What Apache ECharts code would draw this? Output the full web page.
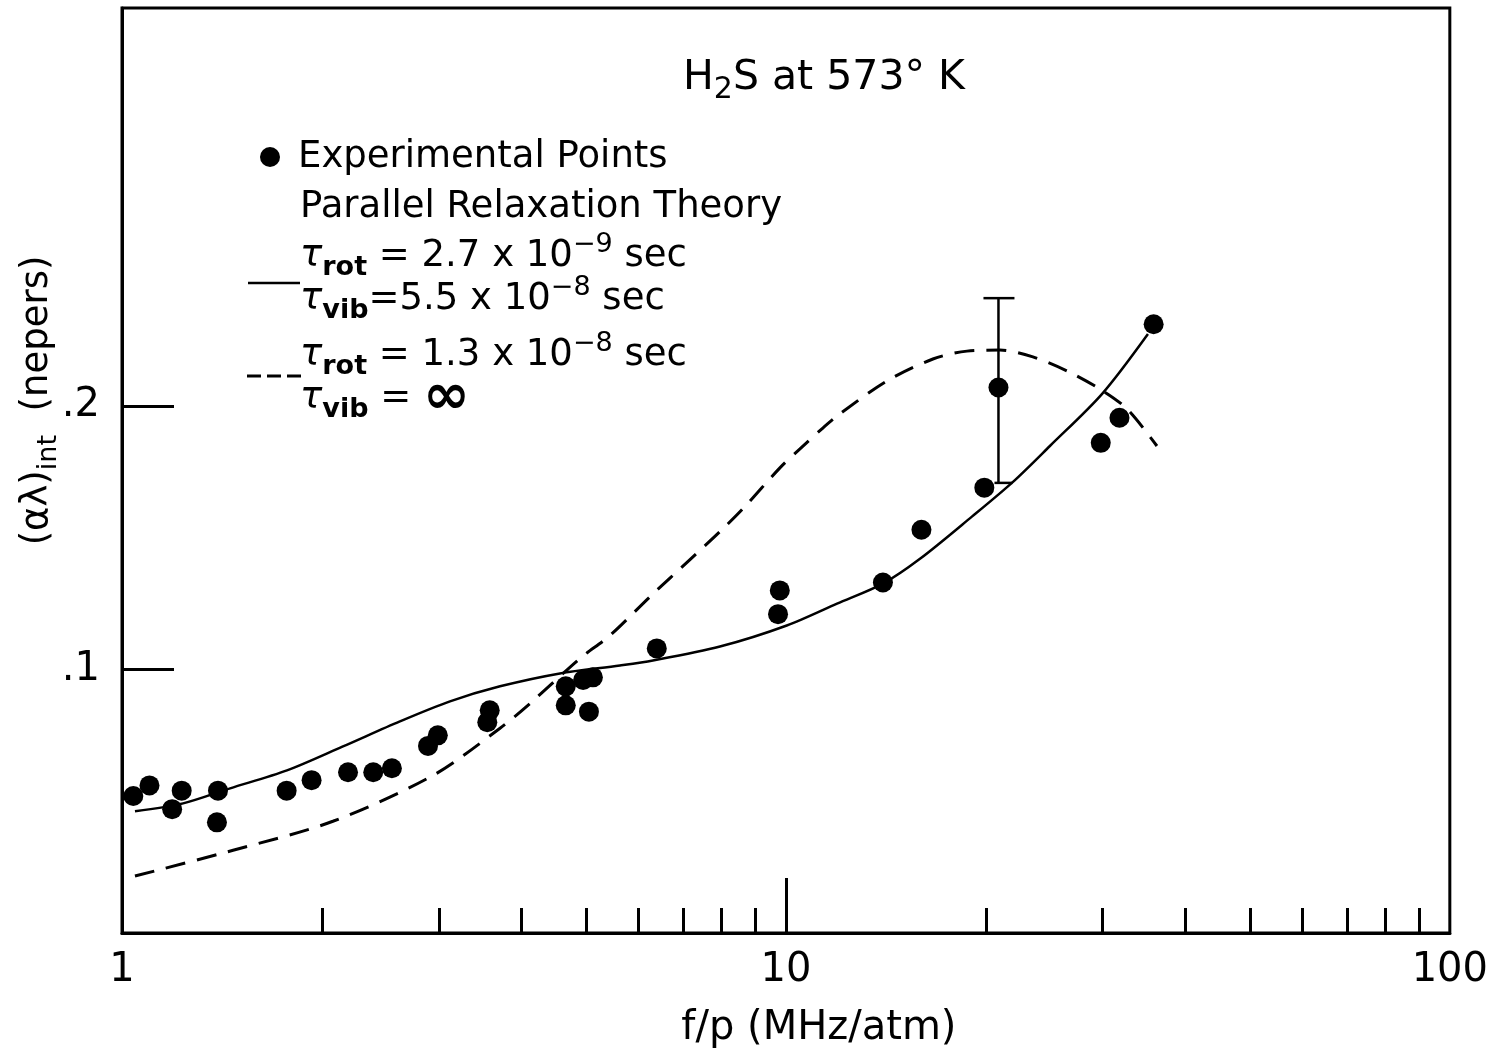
<!DOCTYPE html>
<html>
<head>
<meta charset="utf-8">
<script src="https://cdn.jsdelivr.net/npm/echarts@6/dist/echarts.min.js"></script>
<style>html,body{margin:0;padding:0;background:#fff;}#chart{width:1491px;height:1054px;}</style>
</head>
<body>
<div id="chart"></div>
<script>
// ---- data ----
const expX = [1.04, 1.10, 1.19, 1.23, 1.39, 1.395, 1.77, 1.93, 2.19, 2.39, 2.55, 2.89, 2.99, 3.55, 3.58, 4.66, 4.66, 4.95, 5.12, 5.05, 6.39, 9.79, 9.73, 14.0, 16.0, 19.9, 20.9, 29.8, 31.8, 35.8];
const expY = [0.052, 0.056, 0.047, 0.054, 0.042, 0.054, 0.054, 0.058, 0.061, 0.061, 0.0625, 0.071, 0.075, 0.080, 0.0845, 0.0936, 0.0864, 0.096, 0.097, 0.084, 0.108, 0.130, 0.121, 0.133, 0.153, 0.169, 0.207, 0.186, 0.1955, 0.231];

const solidX = [1.046, 1.236, 1.455, 1.772, 2.152, 2.622, 3.119, 3.710, 4.567, 5.623, 6.304, 7.955, 10.03, 11.94, 14.00, 15.92, 19.06, 21.98, 24.98, 29.92, 35.10];
const solidY = [0.0462, 0.0492, 0.0549, 0.0617, 0.0708, 0.0803, 0.0879, 0.0936, 0.0985, 0.1015, 0.1034, 0.1087, 0.1167, 0.1250, 0.1326, 0.1420, 0.1580, 0.1712, 0.1848, 0.2045, 0.2273];

const dashX = [1.046, 1.470, 2.078, 2.941, 3.710, 4.117, 4.896, 5.432, 6.241, 7.170, 7.955, 8.614, 9.794, 10.50, 11.33, 12.06, 14.20, 16.65, 18.74, 21.00, 23.55, 26.50, 29.72, 32.63, 36.21];
const dashY = [0.0216, 0.0314, 0.0424, 0.0598, 0.0777, 0.0871, 0.1042, 0.1129, 0.1276, 0.1417, 0.1523, 0.1610, 0.1765, 0.1837, 0.1913, 0.1970, 0.2095, 0.2178, 0.2208, 0.2212, 0.2186, 0.2133, 0.2064, 0.1989, 0.1848];

const errX = [20.9];
const errLow = [0.1708];
const errHigh = [0.2409];

const xMinorTicks = [2, 3, 4, 5, 6, 7, 8, 9, 20, 30, 40, 50, 60, 70, 80, 90];
const xMajorTicks = [10];
const xLabels = [1, 10, 100];
const yTicks = [0.1, 0.2];
const yTickText = ['.1', '.2'];

const FONT = 'DejaVu Sans';

const chart = echarts.init(document.getElementById('chart'));

const subRich = {
  n: { fontFamily: FONT, fontSize: 37, lineHeight: 50, color: '#000', verticalAlign: 'middle' },
  h: { fontFamily: FONT, fontSize: 41, lineHeight: 54, color: '#000', verticalAlign: 'middle' },
  hs: { fontFamily: FONT, fontSize: 30, lineHeight: 30, color: '#000', verticalAlign: 'bottom' },
  t: { fontFamily: FONT, fontSize: 37, lineHeight: 50, color: '#000', fontStyle: 'italic', verticalAlign: 'middle' },
  sub: { fontFamily: FONT, fontSize: 27, lineHeight: 27, color: '#000', fontWeight: 'bold', verticalAlign: 'bottom' },
  sup: { fontFamily: FONT, fontSize: 27, lineHeight: 30, color: '#000', verticalAlign: 'top' },
  inf: { fontFamily: FONT, fontSize: 56, lineHeight: 50, color: '#000', fontWeight: 'bold', verticalAlign: 'middle' }
};

function txt(x, y, text) {
  return { type: 'text', x: x, y: y, silent: true,
    style: { text: text, rich: subRich, fill: '#000', font: '37px "' + FONT + '"', verticalAlign: 'middle', align: 'left' } };
}

const option = {
  animation: false,
  backgroundColor: '#fff',
  grid: { left: 122, right: 40, top: 8, bottom: 119, show: true, borderColor: '#000', borderWidth: 3, containLabel: false },
  xAxis: [
    {
      type: 'log', logBase: 10, min: 1, max: 100,
      name: 'f/p (MHz/atm)', nameLocation: 'middle', nameGap: 76, nameMoveOverlap: false,
      nameTextStyle: { fontFamily: FONT, fontSize: 40, color: '#000', padding: [0, 0, 0, 66] },
      axisLine: { show: true, lineStyle: { color: '#000', width: 3 } },
      axisTick: { show: true, inside: true, length: 25, customValues: xMinorTicks, lineStyle: { color: '#000', width: 3 } },
      axisLabel: { show: true, customValues: xLabels, margin: 18, fontFamily: FONT, fontSize: 40, color: '#000' },
      splitLine: { show: false }, minorTick: { show: false }
    },
    {
      type: 'log', logBase: 10, min: 1, max: 100, position: 'bottom',
      axisLine: { show: false },
      axisTick: { show: true, inside: true, length: 55, customValues: xMajorTicks, lineStyle: { color: '#000', width: 3 } },
      axisLabel: { show: false },
      splitLine: { show: false }
    }
  ],
  yAxis: {
    type: 'value', min: 0, max: 0.351,
    name: '{n|(αλ)}{s|int}{n|  (nepers)}', nameLocation: 'middle', nameGap: 60, nameMoveOverlap: false,
    nameTextStyle: {
      color: '#000', fontFamily: FONT, fontSize: 36, padding: [0, 0, 0, 140],
      rich: {
        n: { fontFamily: FONT, fontSize: 37, lineHeight: 50, color: '#000', verticalAlign: 'middle' },
        s: { fontFamily: FONT, fontSize: 27, lineHeight: 27, color: '#000', verticalAlign: 'bottom' }
      }
    },
    axisLine: { show: true, lineStyle: { color: '#000', width: 3 } },
    axisTick: { show: true, inside: true, length: 52, customValues: yTicks, lineStyle: { color: '#000', width: 3 } },
    axisLabel: { show: true, customValues: yTicks, margin: 22, fontFamily: FONT, fontSize: 40, color: '#000',
      formatter: function (v) { const i = yTicks.findIndex(t => Math.abs(t - v) < 1e-9); return i >= 0 ? yTickText[i] : ''; } },
    splitLine: { show: false }
  },
  series: [
    {
      name: 'dashed', type: 'line', smooth: 0.3, showSymbol: false, symbol: 'none',
      data: dashX.map((x, i) => [x, dashY[i]]),
      lineStyle: { color: '#000', width: 3, type: [20, 12] }, z: 2
    },
    {
      name: 'solid', type: 'line', smooth: 0.3, showSymbol: false, symbol: 'none',
      data: solidX.map((x, i) => [x, solidY[i]]),
      lineStyle: { color: '#000', width: 2.5 }, z: 2
    },
    {
      name: 'error', type: 'custom',
      data: errX.map((x, i) => [x, errLow[i], errHigh[i]]),
      encode: { x: 0, y: [1, 2] },
      renderItem: function (params, api) {
        const lo = api.coord([api.value(0), api.value(1)]);
        const hi = api.coord([api.value(0), api.value(2)]);
        const st = { stroke: '#000', lineWidth: 2.5 };
        return { type: 'group', children: [
          { type: 'line', shape: { x1: hi[0], y1: hi[1], x2: lo[0], y2: lo[1] }, style: st },
          { type: 'line', shape: { x1: hi[0] - 15, y1: hi[1], x2: hi[0] + 16, y2: hi[1] }, style: st },
          { type: 'line', shape: { x1: lo[0] - 4, y1: lo[1], x2: lo[0] + 14, y2: lo[1] }, style: st }
        ] };
      }, z: 3
    },
    {
      name: 'Experimental Points', type: 'scatter', symbol: 'circle', symbolSize: 20,
      data: expX.map((x, i) => [x, expY[i]]),
      itemStyle: { color: '#000', opacity: 1 }, z: 4
    }
  ],
  graphic: [
    txt(683, 78, '{h|H}{hs|2}{h|S at 573° K}'),
    { type: 'circle', shape: { cx: 270, cy: 157, r: 10 }, style: { fill: '#000' } },
    txt(298, 157, '{n|Experimental Points}'),
    txt(300, 207, '{n|Parallel Relaxation Theory}'),
    { type: 'line', shape: { x1: 248, y1: 283, x2: 300, y2: 283 }, style: { stroke: '#000', lineWidth: 2.5 } },
    txt(300, 256, '{t|τ}{sub|rot}{n| = 2.7 x 10}{sup|−9}{n| sec}'),
    txt(300, 299, '{t|τ}{sub|vib}{n|=5.5 x 10}{sup|−8}{n| sec}'),
    { type: 'line', shape: { x1: 247, y1: 376, x2: 302, y2: 376 }, style: { stroke: '#000', lineWidth: 3, lineDash: [14, 6] } },
    txt(300, 355, '{t|τ}{sub|rot}{n| = 1.3 x 10}{sup|−8}{n| sec}'),
    txt(300, 398, '{t|τ}{sub|vib}{n| = }{inf|∞}')
  ]
};
chart.setOption(option);
</script>
</body>
</html>
